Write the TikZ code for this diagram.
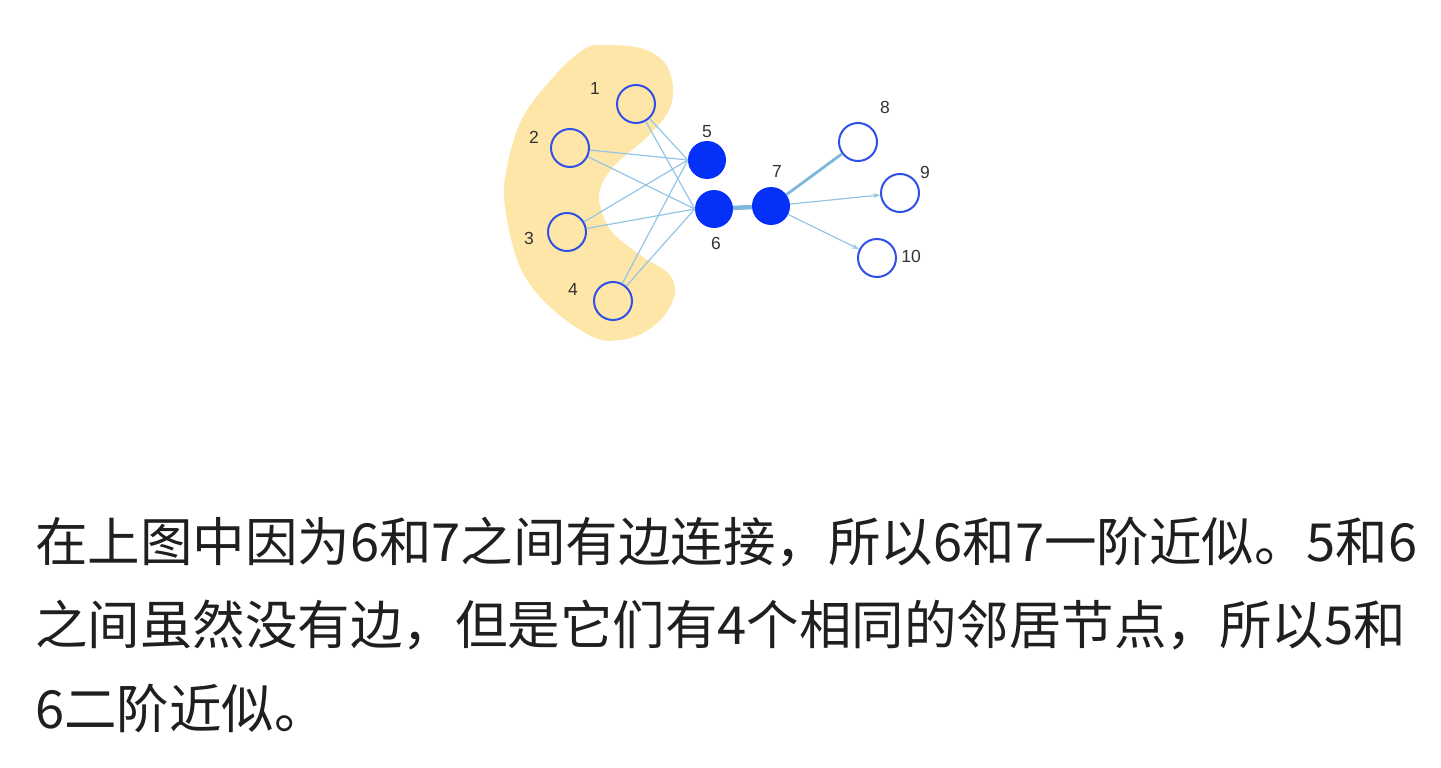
\documentclass[tikz,border=0pt]{standalone}
\usepackage{fontspec}
\setmainfont{Liberation Sans}
\newfontfamily\cjk{Noto Sans CJK SC}
\usetikzlibrary{arrows.meta}
\definecolor{blobyellow}{HTML}{FDE6A8}
\definecolor{nodeblue}{HTML}{2F4FE6}
\definecolor{fillblue}{HTML}{0530F8}
\definecolor{edgeblue}{HTML}{94C6E4}
\definecolor{thickblue}{HTML}{7DB7DC}
\definecolor{labgray}{HTML}{333333}
\begin{document}
\begin{tikzpicture}[x=1pt,y=-1pt,
  opennode/.style={circle,draw=nodeblue,line width=2pt,fill=none,minimum size=38pt,inner sep=0pt},
  fullnode/.style={circle,fill=fillblue,draw=none,minimum size=38pt,inner sep=0pt},
  lab/.style={text=labgray,font=\fontsize{17.5}{17.5}\selectfont,inner sep=0pt},
  edge/.style={draw=edgeblue,line width=1.2pt},
  txt/.style={anchor=base west,inner sep=0pt,font=\cjk\fontsize{52.5}{52.5}\selectfont,text=black!88}]
\useasboundingbox (0,0) rectangle (1441,768);
% blob
\fill[blobyellow] plot[smooth cycle,tension=0.6] coordinates {
 (600,45) (640,48) (664,62) (673,87) (668,112) (647,137) (613,167) (600,190)
 (601,209) (613,233) (643,257) (668,273) (675,293) (663,317) (643,333) (620,340)
 (593,337) (550,307) (520,267) (505,207) (507,167) (523,117) (557,73) (583,50)};
% nodes
\node[opennode] (n1) at (636,104) {};
\node[opennode] (n2) at (570,148) {};
\node[opennode] (n3) at (567,232) {};
\node[opennode] (n4) at (613,301) {};
\node[fullnode] (n5) at (707,160) {};
\node[fullnode] (n6) at (714,209) {};
\node[fullnode] (n7) at (771,206) {};
\node[opennode] (n8) at (858,142) {};
\node[opennode] (n9) at (900,193) {};
\node[opennode] (n10) at (877,258) {};
% labels
\node[lab] (l1) at (595,88) {1};
\node[lab] (l2) at (534,137) {2};
\node[lab] (l3) at (529,238) {3};
\node[lab] (l4) at (573,289) {4};
\node[lab] (l5) at (707,132) {5};
\node[lab] (l6) at (716,243) {6};
\node[lab] (l7) at (777,171) {7};
\node[lab] (l8) at (885,107) {8};
\node[lab] (l9) at (925,172) {9};
\node[lab] (l10) at (911,256) {10};
% edges
\foreach \s in {n1,n2,n3,n4}{
  \draw[edge] (\s) -- (n5.west);
  \draw[edge] (\s) -- (n6.west);
}
\draw[draw=thickblue,line width=4.5pt] (n6) -- (n7);
\draw[draw=thickblue,line width=2.8pt] (n7) -- (n8);
\draw[edge,-{Stealth[length=7pt,width=5pt]}] (n7) -- (n9);
\draw[edge,-{Stealth[length=7pt,width=5pt]}] (n7) -- (n10);
% text
\node[txt] (t1) at (35,561) {在上图中因为6和7之间有边连接，所以6和7一阶近似。5和6};
\node[txt] (t2) at (35,644) {之间虽然没有边，但是它们有4个相同的邻居节点，所以5和};
\node[txt] (t3) at (35,728) {6二阶近似。};
\end{tikzpicture}
\end{document}
